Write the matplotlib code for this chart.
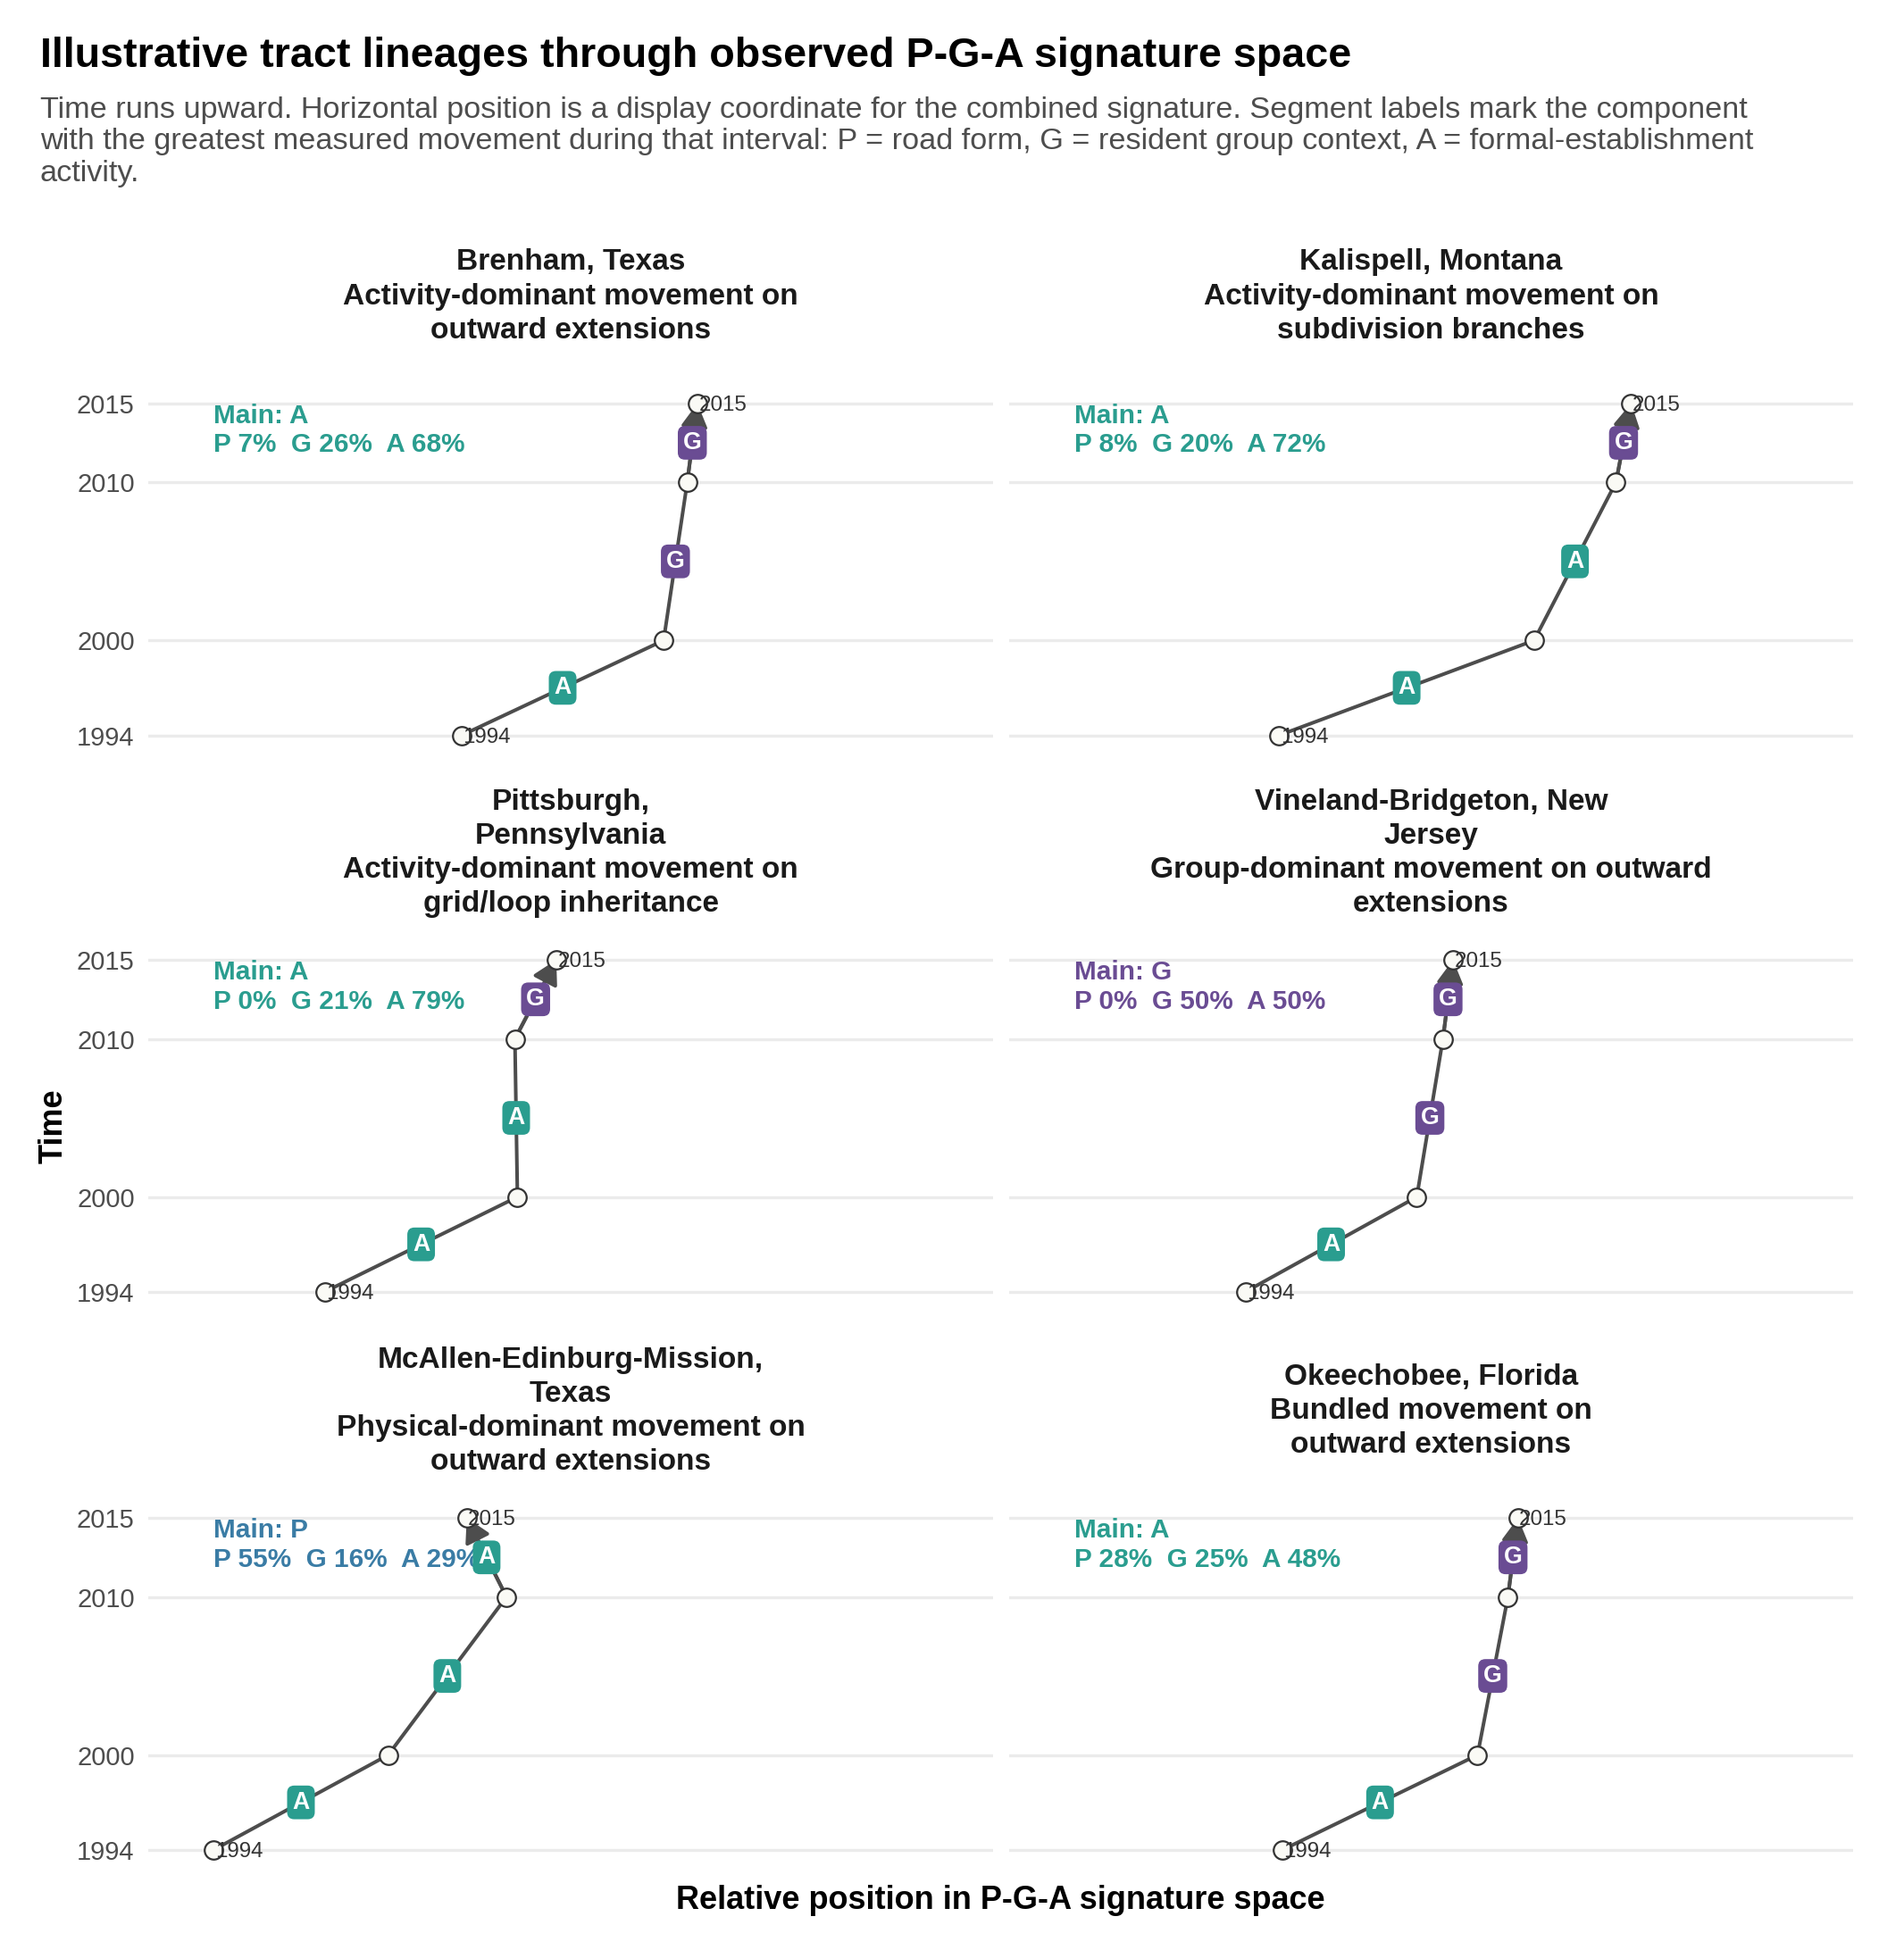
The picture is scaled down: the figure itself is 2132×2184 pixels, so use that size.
import matplotlib
matplotlib.use("Agg")
import matplotlib.pyplot as plt
from matplotlib.patches import FancyArrowPatch, ArrowStyle

plt.rcParams['font.family'] = ['Liberation Sans', 'DejaVu Sans']

# ---------------- data ----------------
years = [1994, 2000, 2010, 2015]
year_ticks = [1994, 2000, 2010, 2015]

places = ["Brenham, Texas", "Kalispell, Montana", "Pittsburgh,\nPennsylvania",
          "Vineland-Bridgeton, New\nJersey", "McAllen-Edinburg-Mission,\nTexas",
          "Okeechobee, Florida"]
descriptions = ["Activity-dominant movement on\noutward extensions",
                "Activity-dominant movement on\nsubdivision branches",
                "Activity-dominant movement on\ngrid/loop inheritance",
                "Group-dominant movement on outward\nextensions",
                "Physical-dominant movement on\noutward extensions",
                "Bundled movement on\noutward extensions"]

# display coordinate (relative position in signature space) at each year
x_brenham = [0.371, 0.610, 0.638, 0.650]
x_kalispell = [0.320, 0.622, 0.719, 0.737]
x_pittsburgh = [0.209, 0.437, 0.434, 0.483]
x_vineland = [0.280, 0.483, 0.514, 0.526]
x_mcallen = [0.0775, 0.284, 0.424, 0.377]
x_okeechobee = [0.324, 0.555, 0.591, 0.603]

# dominant component per interval (1994-2000, 2000-2010, 2010-2015)
seg_brenham = ["A", "G", "G"]
seg_kalispell = ["A", "A", "G"]
seg_pittsburgh = ["A", "A", "G"]
seg_vineland = ["A", "G", "G"]
seg_mcallen = ["A", "A", "A"]
seg_okeechobee = ["A", "G", "G"]

main_component = ["A", "A", "A", "G", "P", "A"]
share_P = [7, 8, 0, 0, 55, 28]
share_G = [26, 20, 21, 50, 16, 25]
share_A = [68, 72, 79, 50, 29, 48]

xs_all = [x_brenham, x_kalispell, x_pittsburgh, x_vineland, x_mcallen, x_okeechobee]
segs_all = [seg_brenham, seg_kalispell, seg_pittsburgh, seg_vineland, seg_mcallen, seg_okeechobee]

comp_colors = {"P": "#3A7CA5", "G": "#6A4C93", "A": "#2A9D8F"}

title = "Illustrative tract lineages through observed P-G-A signature space"
subtitle_lines = [
    "Time runs upward. Horizontal position is a display coordinate for the combined signature. Segment labels mark the component",
    "with the greatest measured movement during that interval: P = road form, G = resident group context, A = formal-establishment",
    "activity.",
]

# ---------------- figure ----------------
W, H, DPI = 2132, 2184, 200
fig = plt.figure(figsize=(W / DPI, H / DPI), dpi=DPI)
fig.patch.set_facecolor("white")

col_left = [166, 1130]
col_width = [946, 945]
row_top = [433.1, 1056.4, 1681.4]
panel_h = 409.0

line_col = "#4D4D4D"
ann_x = min(min(v) for v in xs_all)

for i in range(6):
    r, c = divmod(i, 2)
    l, w, t = col_left[c], col_width[c], row_top[r]
    ax = fig.add_axes([l / W, 1 - (t + panel_h) / H, w / W, panel_h / H])
    ax.set_xlim(0, 1)
    ax.set_ylim(1992.95, 2016.05)
    for s in ax.spines.values():
        s.set_visible(False)
    ax.set_xticks([])
    ax.set_yticks(year_ticks)
    ax.grid(axis="y", color="#EBEBEB", lw=1.2)
    ax.set_axisbelow(True)
    ax.tick_params(axis="y", length=0, pad=5.5, labelsize=10.5, labelcolor="#4D4D4D")
    if c == 1:
        ax.set_yticklabels([])

    xv = xs_all[i]
    ax.plot(xv, years, color=line_col, lw=1.45, zorder=2, solid_capstyle="butt")
    arr = FancyArrowPatch((xv[-2], years[-2]), (xv[-1], years[-1]),
                          arrowstyle=ArrowStyle("-|>", head_length=0.8, head_width=0.45),
                          mutation_scale=10, shrinkA=0, shrinkB=0, lw=1.45,
                          color=line_col, zorder=3)
    ax.add_patch(arr)
    ax.plot(xv, years, linestyle="none", marker="o", ms=7.4, mfc="#FAFAF5",
            mec="#333333", mew=0.8, zorder=4)

    for k, comp in enumerate(segs_all[i]):
        mx = (xv[k] + xv[k + 1]) / 2
        my = (years[k] + years[k + 1]) / 2
        ax.text(mx, my, comp, ha="center", va="center", fontsize=9.6,
                fontweight="bold", color="white", zorder=5,
                bbox=dict(boxstyle="round,pad=0.22,rounding_size=0.3",
                          fc=comp_colors[comp], ec="none"))

    for k in (0, len(years) - 1):
        ax.annotate(str(years[k]), (xv[k], years[k]), xytext=(0.5, 0),
                    textcoords="offset points", ha="left", va="center_baseline",
                    fontsize=8.7, color="#333333", zorder=6)

    mc = main_component[i]
    ax.text(ann_x, 2015, f"Main: {mc}\nP {share_P[i]}%  G {share_G[i]}%  A {share_A[i]}%",
            ha="left", va="top", fontsize=10.7, fontweight="bold",
            color=comp_colors[mc], linespacing=1.21, zorder=1)

    # strip title
    fig.text((l + w / 2) / W, 1 - (t - 101) / H, places[i] + "\n" + descriptions[i],
             ha="center", va="center", fontsize=12.05, fontweight="bold",
             color="#1A1A1A", linespacing=1.3)

# titles
fig.text(45 / W, 1 - 75 / H, title,
         ha="left", va="baseline", fontsize=16.8, fontweight="bold", color="#000000")
for j, line in enumerate(subtitle_lines):
    fig.text(45 / W, 1 - (131.7 + 35.5 * j) / H, line, ha="left", va="baseline",
             fontsize=12.35, color="#4D4D4D")

fig.text(60 / W, 1 - 1261 / H, "Time", rotation=90, ha="center", va="center",
         fontsize=13, fontweight="bold", color="#000000")
fig.text(1120.5 / W, 1 - 2138 / H, "Relative position in P-G-A signature space",
         ha="center", va="baseline", fontsize=13, fontweight="bold", color="#000000")

fig.savefig("out.png", dpi=DPI, facecolor="white")
